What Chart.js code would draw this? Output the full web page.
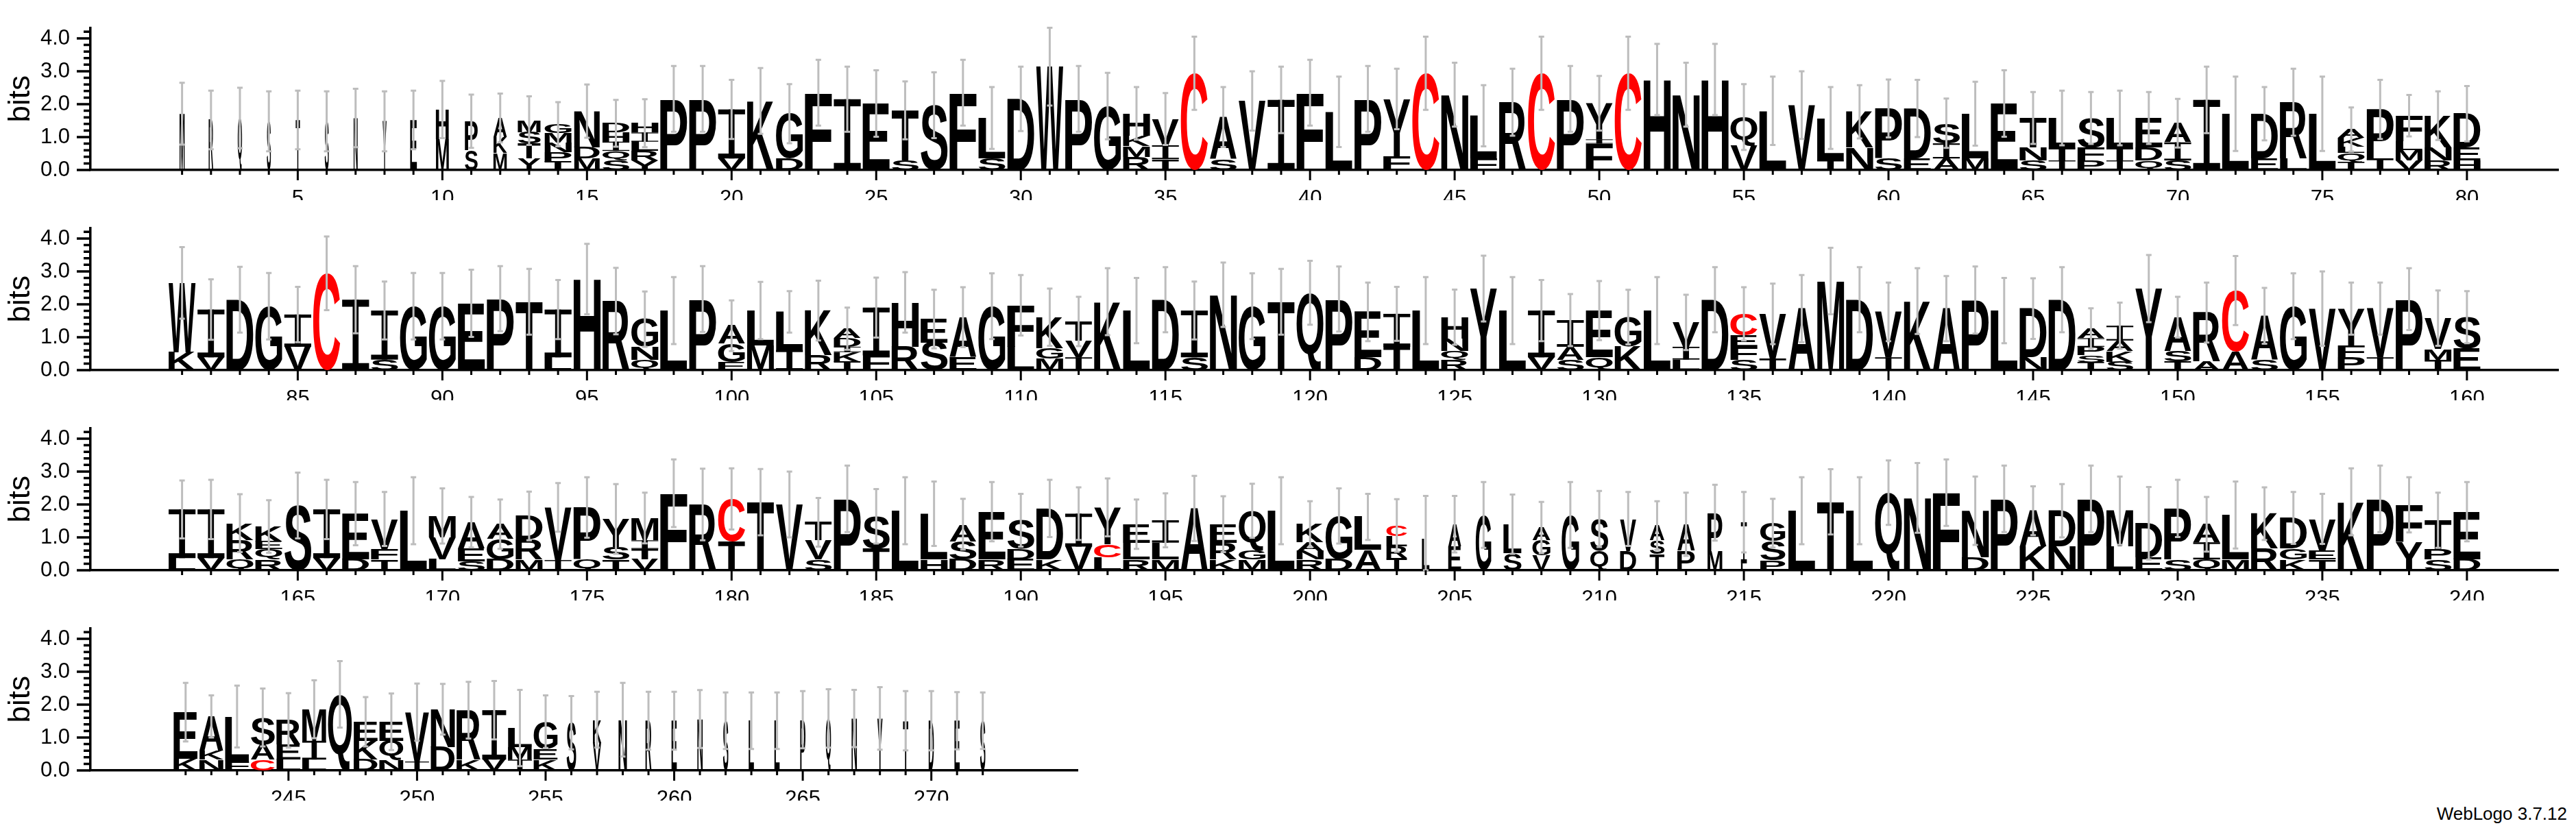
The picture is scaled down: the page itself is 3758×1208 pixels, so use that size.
<!DOCTYPE html>
<html>
<head>
<meta charset="utf-8">
<script src="https://cdn.jsdelivr.net/npm/chart.js@4.4.1/dist/chart.umd.min.js"></script>
<style>
  body { margin: 0; background: #fff; }
  #page { position: relative; width: 3758px; height: 1208px; background: #fff; }
  #page canvas { position: absolute; left: 0; }
  #credit { position: absolute; right: 13px; top: 1172px; font: 26px "Liberation Sans", Arial, sans-serif; color: #000; }
</style>
</head>
<body>
<div id="page">
  <canvas id="row1" width="3758" height="292" style="top:0px"></canvas>
  <canvas id="row2" width="3758" height="292" style="top:292px"></canvas>
  <canvas id="row3" width="3758" height="292" style="top:584px"></canvas>
  <canvas id="row4" width="1598" height="292" style="top:876px"></canvas>
  <div id="credit">WebLogo 3.7.12</div>
</div>
<script>
// each stack is read top -> bottom: letter followed by its height in bits
const stacksRow1 = [
  "M1.71", "R1.52", "Q1.58", "S1.48", "T1.52", "S1.48", "N1.58", "Y1.48", "E1.52", "H.90 M.94",
  "P.87 S.61", "A.58 K.48 M.52", "M.35 S.35 T.45 Y.35", "G.26 M.29 N.29 P.29 T.26", "N1.11 D.33 M.35",
  "D.28 H.28 I.28 Q.29 S.29", "H.28 I.28 L.28 R.29 Y.29", "P2.16", "P2.16", "I1.49 V.35",
  "K2.1", "G1.36 D.35", "F2.35", "I2.15", "E2.02", "T1.52 S.29", "S1.97", "F2.35", "L1.23 S.35", "D2.16",
  "W3.14", "P2.16", "G1.94", "H.68 K.32 M.32 R.4", "V.8 I.42 T.33", "C2.94", "A1.29 S.32", "V2.1", "I2.13", "F2.35",
  "L1.77", "P2.16", "Y1.74 F.42", "C2.94", "N2.29", "L1.3 F.35", "R2.06", "C2.94", "P2.16", "Y1.1 I.13 F.8",
  "C2.94", "H2.75", "N2.29", "H2.75", "Q.87 V.74", "L1.8", "V1.97", "L1.26 T.32", "K1.09 N.68", "P1.52 S.35",
  "D1.52 E.35", "S.61 I.46 A.35", "L1.36 M.35", "E2.02", "T.9 N.39 S.29", "L.9 T.39 I.29", "S.9 F.39 P.29",
  "L.9 T.39 I.29", "E.9 D.39 Q.29", "A.58 I.55 S.29",
  "I2.13", "L1.71", "D1.36 E.35", "R1.71 L.35", "L1.71", "A.26 K.26 L.19 Q.29 T.23", "P1.49 T.35",
  "F.78 L.26 M.32 V.29", "K.97 N.39 R.29", "D1.03 E.39 H.29"
];
const stacksRow2 = [
  "W2.1 K.55", "I1.45 V.39", "D2.14", "G1.94", "I.98 V.71", "C2.94", "I2.14", "I1.49 S.32", "G1.94", "G1.94",
  "E2.03", "P2.17", "T2.08", "I1.45 L.39", "H2.77", "R2.1", "G.84 N.39 Q.32", "L1.81", "P2.16", "A.55 G.55 E.25",
  "L1.07 M.74", "L1.16 I.61", "K1.36 R.45", "A.29 D.26 I.16 K.29 T.26", "I1.45 F.45", "H1.35 R.71", "E.71 S.84",
  "A1.22 E.39", "G1.94", "F1.26 L.71",
  "K.94 G.32 M.35", "T.58 V.51 I.39", "K2.08", "L1.81", "D2.14", "I1.42 S.39", "N2.29", "G1.94", "T2.08", "Q2.35",
  "P2.16", "E1.38 D.39", "I1.0 T.71", "L1.81", "H.65 N.38 Q.26 R.32", "Y2.48", "L1.81", "I1.42 V.39",
  "I.81 A.39 S.32", "E1.42 Q.39",
  "G.9 K.71", "L1.81", "V.74 I.39 L.32", "D2.14", "C.65 E.35 F.39 S.32", "V1.36 T.35", "A1.87", "M2.71", "D2.14",
  "V1.38 I.39",
  "K2.1", "A1.87", "P2.13", "L1.81", "D1.48 N.39", "D2.14", "A.29 I.26 P.26 S.22 T.23", "I.45 A.32 K.32 S.26",
  "Y2.48", "A1.03 S.32 T.26",
  "R1.49 A.26", "C1.87 A.55", "A1.33 S.32", "G1.94", "V1.87", "Y1.13 F.35 P.39", "V1.48 I.39", "P2.16",
  "V.94 M.32 T.32", "S.96 E.65"
];
const stacksRow3 = [
  "I1.48 L.37", "I1.48 V.37", "K.52 R.58 Q.33", "K.45 E.23 Q.32 R.33", "S1.97", "I1.48 V.37", "E1.39 D.33",
  "V.91 F.32 T.33", "L1.81", "M.65 V.67 L.33",
  "A.8 E.39 S.27", "A.45 G.62 D.33", "D.71 R.61 M.33", "V1.6 I.31", "P1.58 Q.33", "Y.85 S.38 T.33",
  "M.68 I.26 T.32 V.33", "F2.34", "R2.0", "C1.29 T.88",
  "T2.07", "V2.0", "T.55 V.58 S.33", "P2.17", "S.98 T.66", "L1.81", "L1.39 H.33", "A.52 S.55 D.33", "E1.45 R.33",
  "S.87 D.32 E.33",
  "D1.55 K.33", "I1.0 V.72", "Y1.12 C.39 L.4", "E.56 L.51 R.33", "I.68 L.51 M.33", "A1.88", "E.56 R.51 K.33",
  "Q1.22 G.26 M.33", "L1.81", "K.55 A.26 N.26 R.33",
  "G1.32 D.33", "L1.0 A.62", "C.32 L.32 R.35 T.37", "L.95", "A.68 E.72", "G1.68", "L.87 S.53", "A.39 G.45 V.46",
  "G1.68", "S.97 Q.59",
  "V.97 D.59", "A.45 S.42 T.49", "A.81 P.59", "P1.16 M.59", "I1.25 L.21", "G.55 S.58 P.3", "L1.81", "T2.08",
  "L1.81", "Q2.36",
  "N2.2", "F2.36", "N1.41 D.4", "P2.17", "A1.09 K.72", "D1.09 N.72", "P2.17", "M1.09 L.72", "D1.03 E.4",
  "P1.55 S.33",
  "A.55 I.52 Q.33", "L1.35 M.33", "K1.06 R.66", "D.93 G.33 K.33", "V.97 E.26 T.33", "K2.08", "P2.17",
  "F1.14 Y.85", "T.87 P.32 S.33", "E1.45 D.33"
];
const stacksRow4 = [
  "E1.41 K.36", "A1.05 K.26 N.33", "L1.37 F.27", "S.83 A.45 C.33", "R.74 E.45 L.33", "M.96 I.57 L.33", "Q2.31",
  "E.58 K.57 D.33", "E.58 Q.57 N.33", "V1.5 I.27",
  "N1.15 D.71", "R1.5 K.33", "I1.5 V.33", "L.58 M.38 I.33", "G.83 E.32 K.33", "S1.45", "K.7 V.84", "N1.54",
  "R1.51", "E1.51",
  "N1.56", "S1.51", "L1.51", "L1.51", "P1.54", "Q1.58", "N1.58", "Y1.58", "T1.51", "D1.51",
  "E1.51", "S1.51"
];

// half length of the error bar at each position (bits)
const errorsRow1 = [
  0.94, 0.89, 0.92, 0.91, 0.89, 0.91, 0.89, 0.91, 0.89, 0.87,
  0.81, 0.74, 0.74, 0.67, 0.81, 0.71, 0.73, 1.0, 1.0, 0.9,
  1.0, 0.9, 1.0, 0.99, 1.01, 0.88, 1.0, 1.0, 0.94, 0.98,
  1.18, 1.0, 1.01, 0.8, 0.79, 1.11, 0.91, 0.9, 1.01, 1.0,
  1.07, 1.0, 0.92, 1.11, 0.97, 0.93, 1.02, 1.11, 1.0, 0.83,
  1.11, 1.08, 0.97, 1.08, 1.0, 1.04, 1.03, 0.94, 0.81, 0.88,
  0.87, 0.75, 0.97, 1.01, 0.79, 0.83, 0.79, 0.83, 0.79, 0.74,
  1.01, 1.13, 0.81, 1.02, 1.13, 0.67, 0.9, 0.63, 0.74, 0.84
];
const errorsRow2 = [
  1.09, 0.92, 1.0, 1.01, 0.84, 1.12, 1.02, 0.88, 1.01, 1.01,
  1.02, 0.99, 1.0, 0.9, 1.07, 1.01, 0.84, 1.02, 1.0, 0.77,
  0.87, 0.63, 0.91, 0.64, 0.91, 0.92, 0.89, 0.91, 1.0, 0.92,
  0.87, 0.75, 1.02, 0.99, 0.99, 0.88, 0.98, 1.0, 1.0, 0.97,
  0.99, 0.89, 0.82, 1.02, 0.84, 1.0, 1.02, 0.93, 0.79, 0.9,
  0.83, 1.02, 0.84, 0.99, 0.81, 0.92, 1.02, 1.01, 0.99, 0.89,
  1.0, 0.99, 1.02, 0.99, 0.92, 0.99, 0.62, 0.7, 1.02, 0.62,
  0.91, 1.05, 0.85, 1.0, 1.13, 0.79, 0.79, 0.94, 0.84, 0.79
];
const errorsRow3 = [
  0.88, 0.9, 0.88, 0.8, 1.0, 0.9, 0.96, 0.82, 1.02, 0.84,
  0.77, 0.75, 0.74, 0.74, 0.92, 1.06, 0.77, 1.03, 1.09, 0.93,
  1.01, 1.0, 0.74, 1.01, 0.83, 1.02, 0.98, 0.77, 0.9, 0.8,
  0.87, 0.8, 0.88, 0.75, 0.82, 0.99, 0.85, 0.82, 1.02, 0.7,
  0.84, 0.7, 0.8, 1.31, 0.86, 1.0, 0.9, 0.78, 1.0, 0.85,
  0.82, 0.74, 0.96, 0.85, 0.92, 0.74, 1.02, 0.99, 1.02, 0.98,
  1.06, 1.01, 1.04, 1.01, 0.74, 0.81, 1.01, 1.04, 1.1, 0.87,
  0.83, 1.02, 0.8, 0.79, 0.76, 1.02, 1.01, 0.84, 0.84, 0.9
];
const errorsRow4 = [
  0.89, 0.64, 0.94, 0.88, 0.83, 0.88, 1.01, 0.75, 0.86, 0.87,
  0.77, 0.86, 0.89, 1.16, 0.8, 0.81, 0.85, 1.12, 0.88, 0.88,
  0.88, 0.86, 0.86, 0.86, 0.87, 0.89, 0.87, 0.95, 0.9, 0.9,
  0.87, 0.86
];

// stack width as a fraction of a full column (gappy positions are narrower)
const stackWidth = {
  1: .19, 2: .17, 3: .16, 4: .15, 5: .16, 6: .15, 7: .15, 8: .15, 9: .25, 10: .48, 11: .48, 12: .5, 13: .85, 15: .95,
  203: .77, 204: .28, 205: .48, 206: .58, 207: .67, 208: .67, 209: .65, 210: .67, 211: .6, 212: .55, 213: .65,
  214: .55, 215: .22, 216: .93,
  256: .4, 257: .35, 258: .35, 259: .25, 260: .22, 261: .22, 262: .22, 263: .22, 264: .22, 265: .22, 266: .22,
  267: .22, 268: .22, 269: .22, 270: .22, 271: .22, 272: .22
};

const rowStarts = [1, 81, 161, 241];
const yMajorTicks = [0, 1, 2, 3, 4];
const yMinorStep = 0.2;
const yMax = 4.32;

const LETTER_FONT = 'bold 200px "Liberation Sans", Arial, sans-serif';
const AXIS_FONT = '"Liberation Sans", Arial, sans-serif';
const RED = "#ff0000";
const ERR_GRAY = "#bdbdbd";

function parseStack(s) {
  return s.split(" ").map(t => [t[0], parseFloat(t.slice(1))]);
}

const glyphCache = {};
function glyphBox(ctx, ch) {
  if (!glyphCache[ch]) {
    ctx.font = LETTER_FONT;
    const m = ctx.measureText(ch);
    glyphCache[ch] = { l: m.actualBoundingBoxLeft, r: m.actualBoundingBoxRight,
                       a: m.actualBoundingBoxAscent, d: m.actualBoundingBoxDescent };
  }
  return glyphCache[ch];
}

function drawLetter(ctx, ch, cx, yTop, yBottom, w, color) {
  const h = yBottom - yTop;
  if (h < 0.5) return;
  ctx.save();
  ctx.fillStyle = color;
  if (ch === "I") {
    // weblogo style I-beam
    const bar = Math.max(1, h * 0.1);
    ctx.fillRect(cx - w / 2, yTop, w, bar);
    ctx.fillRect(cx - w / 2, yBottom - bar, w, bar);
    ctx.fillRect(cx - w * 0.11, yTop, w * 0.22, h);
  } else {
    const g = glyphBox(ctx, ch);
    ctx.translate(cx - w / 2, yTop);
    ctx.scale(w / (g.l + g.r), h / (g.a + g.d));
    ctx.font = LETTER_FONT;
    ctx.textAlign = "left";
    ctx.textBaseline = "alphabetic";
    ctx.fillText(ch, g.l, g.a);
  }
  ctx.restore();
}

const logoPlugin = {
  id: "logo",
  afterDatasetsDraw(chart) {
    const { ctx, scales: { x, y } } = chart;
    const row = chart.options.plugins.logo;
    const tops = [];
    row.stacks.forEach((s, i) => {
      const pos = row.start + i;
      const cx = x.getPixelForValue(pos);
      const slot = x.getPixelForValue(pos + 0.5) - x.getPixelForValue(pos - 0.5);
      const w = slot * 0.93 * (stackWidth[pos] || 1);
      let base = 0;
      parseStack(s).reverse().forEach(([ch, bits]) => {
        drawLetter(ctx, ch, cx, y.getPixelForValue(base + bits), y.getPixelForValue(base), w,
                   ch === "C" ? RED : "#000");
        base += bits;
      });
      tops.push(base);
    });
    // error bars over the letters
    ctx.save();
    ctx.strokeStyle = ERR_GRAY;
    ctx.lineWidth = 3;
    row.errors.forEach((e, i) => {
      const cx = x.getPixelForValue(row.start + i);
      const y1 = y.getPixelForValue(tops[i] + e);
      const y2 = y.getPixelForValue(Math.max(0, tops[i] - e));
      ctx.beginPath();
      ctx.moveTo(cx, y1); ctx.lineTo(cx, y2);
      ctx.moveTo(cx - 4, y1); ctx.lineTo(cx + 4, y1);
      ctx.moveTo(cx - 4, y2); ctx.lineTo(cx + 4, y2);
      ctx.stroke();
    });
    ctx.restore();
  },
  afterDraw(chart) {
    const { ctx, scales: { x, y }, chartArea } = chart;
    const row = chart.options.plugins.logo;
    ctx.save();
    ctx.strokeStyle = "#000";
    ctx.lineWidth = 3;
    ctx.beginPath();
    for (let p = row.start; p < row.start + row.stacks.length; p++) {
      const px = x.getPixelForValue(p);
      ctx.moveTo(px, chartArea.bottom);
      ctx.lineTo(px, chartArea.bottom + (p % 5 === 0 ? 15 : 7));
    }
    ctx.stroke();
    ctx.lineWidth = 3.5;
    ctx.beginPath();
    for (let k = 0; k * yMinorStep <= yMax; k++) {
      const v = k * yMinorStep;
      const py = y.getPixelForValue(v);
      ctx.moveTo(chartArea.left, py);
      ctx.lineTo(chartArea.left - (k % 5 === 0 ? 20 : 10), py);
    }
    ctx.stroke();
    ctx.restore();
  }
};

function makeRow(canvasId, start, stacks, errors) {
  const end = start + stacks.length - 1;
  const xTicks = [];
  for (let p = start; p <= end; p++) if (p % 5 === 0) xTicks.push(p);
  const totals = stacks.map(s => parseStack(s).reduce((a, t) => a + t[1], 0));
  return new Chart(document.getElementById(canvasId), {
    type: "bar",
    data: {
      datasets: [{
        data: totals.map((t, i) => ({ x: start + i, y: t })),
        backgroundColor: "rgba(0,0,0,0)",
        borderWidth: 0
      }]
    },
    options: {
      responsive: false,
      animation: false,
      devicePixelRatio: 1,
      events: [],
      layout: { padding: { left: 0, right: 25.5, top: 25, bottom: 0 } },
      plugins: {
        legend: { display: false },
        tooltip: { enabled: false },
        logo: { start: start, stacks: stacks, errors: errors }
      },
      scales: {
        x: {
          type: "linear",
          min: start - 0.5,
          max: end + 0.5,
          afterBuildTicks: s => { s.ticks = xTicks.map(v => ({ value: v })); },
          afterFit: s => { s.height = 44; },
          grid: { display: false },
          border: { display: true, color: "#000", width: 3.5 },
          ticks: {
            autoSkip: false, maxRotation: 0, padding: 16, color: "#000",
            font: { family: AXIS_FONT, size: 31 },
            callback: v => String(v)
          }
        },
        y: {
          min: 0,
          max: yMax,
          afterBuildTicks: s => { s.ticks = yMajorTicks.map(v => ({ value: v })); },
          afterFit: s => { s.width = 132; },
          grid: { display: false },
          border: { display: true, color: "#000", width: 3.5 },
          ticks: {
            padding: 22, color: "#000",
            font: { family: AXIS_FONT, size: 31 },
            callback: v => v.toFixed(1)
          },
          title: {
            display: true, text: "bits", color: "#000",
            font: { family: AXIS_FONT, size: 44 },
            padding: { top: 4, bottom: 0 }
          }
        }
      }
    },
    plugins: [logoPlugin]
  });
}

makeRow("row1", rowStarts[0], stacksRow1, errorsRow1);
makeRow("row2", rowStarts[1], stacksRow2, errorsRow2);
makeRow("row3", rowStarts[2], stacksRow3, errorsRow3);
makeRow("row4", rowStarts[3], stacksRow4, errorsRow4);
</script>
</body>
</html>
